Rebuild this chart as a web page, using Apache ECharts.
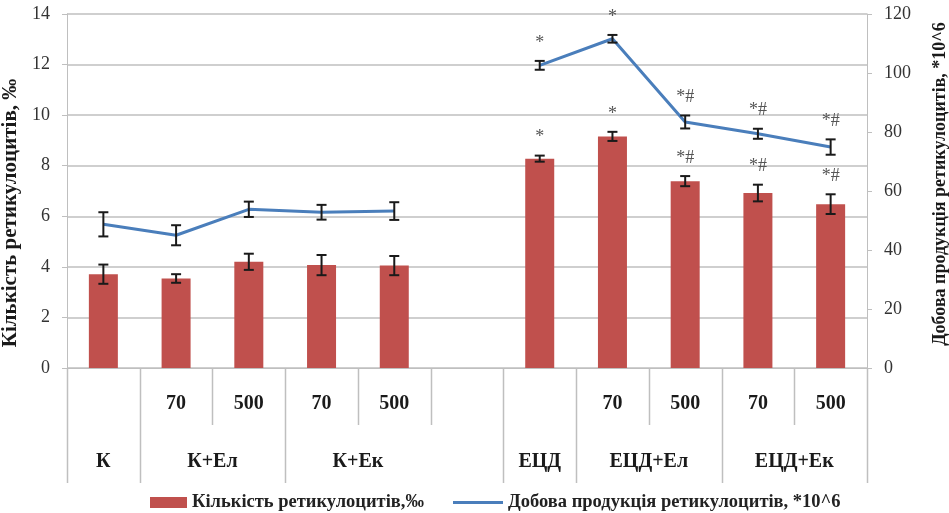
<!DOCTYPE html>
<html>
<head>
<meta charset="utf-8">
<script src="https://cdn.jsdelivr.net/npm/echarts@6/dist/echarts.min.js"></script>
<style>
	html, body { margin: 0; padding: 0; background: #fff; }
	#chart { width: 949px; height: 513px; }
</style>
</head>
<body>
<div id="chart"></div>
<script>
	// slots: К | К+Ел 70, 500 | К+Ек 70, 500 | gap | ЕЦД | ЕЦД+Ел 70, 500 | ЕЦД+Ек 70, 500
	const subLabels = ["", "70", "500", "70", "500", "", "", "70", "500", "70", "500"];
	const groupLabels = ["К", "К+Ел", "К+Ек", "ЕЦД", "ЕЦД+Ел", "ЕЦД+Ек"];
	const groupCenters = [0, 1.5, 3.5, 6, 7.5, 9.5];
	const fullDividers = [0, 1, 3, 6, 7, 9, 11];
	const shortDividers = [2, 4, 5, 8, 10];

	const countName = "Кількість ретикулоцитів,‰";
	const countValues = [3.71, 3.54, 4.2, 4.07, 4.05, null, 8.28, 9.16, 7.39, 6.92, 6.48];
	const countErrors = [0.38, 0.17, 0.32, 0.4, 0.38, null, 0.12, 0.18, 0.2, 0.33, 0.39];
	const countMarks = ["", "", "", "", "", "", "*", "*", "*#", "*#", "*#"];

	const prodName = "Добова продукція ретикулоцитів, *10^6";
	const prodValues = [48.7, 45.0, 53.8, 52.8, 53.2, null, 102.6, 111.6, 83.4, 79.4, 74.9];
	const prodErrors = [4.1, 3.4, 2.6, 2.5, 3.0, null, 1.5, 1.3, 2.2, 1.7, 2.6];
	const prodMarks = ["", "", "", "", "", "", "*", "*", "*#", "*#", "*#"];

	const serif = "'Liberation Serif', 'Times New Roman', serif";
	const gridColor = "#bfbfbf";
	const barColor = "#c0504d";
	const lineColor = "#4a7ebb";

	const errorData = (values, errors) => values
		.map((v, i) => (v == null ? null : [i, v, errors[i]]))
		.filter(d => d);

	const errorRenderer = marks => (params, api) => {
		const i = api.value(0);
		const v = api.value(1);
		const e = api.value(2);
		const top = api.coord([i, v + e]);
		const bot = api.coord([i, v - e]);
		const x = top[0];
		const cap = 5;
		const lineStyle = { stroke: "#1a1a1a", lineWidth: 2 };
		const children = [
			{ type: "line", shape: { x1: x, y1: top[1], x2: x, y2: bot[1] }, style: lineStyle },
			{ type: "line", shape: { x1: x - cap, y1: top[1], x2: x + cap, y2: top[1] }, style: lineStyle },
			{ type: "line", shape: { x1: x - cap, y1: bot[1], x2: x + cap, y2: bot[1] }, style: lineStyle }
		];
		if (marks[i]) {
			children.push({
				type: "text",
				style: {
					text: marks[i], x: x, y: top[1] - 9,
					align: "center", verticalAlign: "bottom",
					fontSize: 18, fontFamily: serif, fill: "#555"
				}
			});
		}
		return { type: "group", children };
	};

	const dividers = fullDividers.map(b => [b, 115]).concat(shortDividers.map(b => [b, 57]));

	const legendText = { fontFamily: serif, fontWeight: "bold", fontSize: 18.5, color: "#222" };

	const chart = echarts.init(document.getElementById("chart"));
	chart.setOption({
		animation: false,
		grid: { left: 67, right: 82, top: 14, bottom: 145, containLabel: false, outerBoundsMode: "none" },
		legend: [
			{
				top: 488,
				left: 145,
				itemWidth: 37,
				itemHeight: 11,
				textStyle: legendText,
				data: [{ name: countName, icon: "rect" }]
			},
			{
				top: 488,
				left: 448,
				itemWidth: 50,
				itemHeight: 3,
				textStyle: legendText,
				data: [{ name: prodName, icon: "rect", itemStyle: { color: lineColor } }]
			}
		],
		xAxis: [
			{
				type: "category",
				data: subLabels,
				axisLine: { onZero: false, lineStyle: { color: gridColor } },
				axisTick: { show: false },
				axisLabel: { interval: 0, margin: 26, fontFamily: serif, fontWeight: "bold", fontSize: 20, color: "#1a1a1a" }
			},
			{
				type: "value",
				position: "bottom",
				min: -0.5,
				max: 10.5,
				interval: 0.5,
				axisLine: { show: false, onZero: false },
				axisTick: { show: false },
				splitLine: { show: false },
				axisLabel: {
					margin: 84,
					fontFamily: serif, fontWeight: "bold", fontSize: 20, color: "#1a1a1a",
					showMinLabel: true, showMaxLabel: true,
					formatter: value => {
						const k = groupCenters.findIndex(c => Math.abs(c - value) < 1e-6);
						return k >= 0 ? groupLabels[k] : "";
					}
				}
			}
		],
		yAxis: [
			{
				type: "value",
				min: 0, max: 14, interval: 2,
				name: "Кількість ретикулоцитів, ‰",
				nameLocation: "middle",
				nameGap: 40,
				nameTextStyle: {
					fontFamily: serif, fontWeight: "bold", fontSize: 21, color: "#1a1a1a",
					padding: [0, 44, 0, 0]
				},
				axisLine: { show: true, onZero: false, lineStyle: { color: gridColor } },
				axisTick: { show: true, length: 5, lineStyle: { color: gridColor } },
				axisLabel: { margin: 17, fontFamily: serif, fontSize: 18, color: "#333" },
				splitLine: { lineStyle: { color: gridColor, width: 1.5 } }
			},
			{
				type: "value",
				min: 0, max: 120, interval: 20,
				name: "Добова продукція ретикулоцитів, *10^6",
				nameLocation: "middle",
				nameGap: 64,
				nameRotate: 90,
				nameTextStyle: {
					fontFamily: serif, fontWeight: "bold", fontSize: 18, color: "#1a1a1a",
					padding: [0, 0, 0, 14]
				},
				axisLine: { show: true, onZero: false, lineStyle: { color: gridColor } },
				axisTick: { show: true, length: 5, lineStyle: { color: gridColor } },
				axisLabel: { margin: 17, fontFamily: serif, fontSize: 18, color: "#333" },
				splitLine: { show: false }
			}
		],
		series: [
			{
				name: countName,
				type: "bar",
				data: countValues,
				barWidth: 29,
				itemStyle: { color: barColor }
			},
			{
				name: prodName,
				type: "line",
				yAxisIndex: 1,
				data: prodValues,
				symbol: "none",
				connectNulls: false,
				lineStyle: { color: lineColor, width: 3 },
				itemStyle: { color: lineColor }
			},
			{
				type: "custom",
				data: errorData(countValues, countErrors),
				encode: { x: 0, y: 1 },
				renderItem: errorRenderer(countMarks),
				z: 5,
				silent: true
			},
			{
				type: "custom",
				yAxisIndex: 1,
				data: errorData(prodValues, prodErrors),
				encode: { x: 0, y: 1 },
				renderItem: errorRenderer(prodMarks),
				z: 5,
				silent: true
			},
			{
				type: "custom",
				data: dividers.map(d => [Math.min(d[0], 10), 0]),
				clip: false,
				silent: true,
				renderItem: (params, api) => {
					const [b, len] = dividers[params.dataIndex];
					const bw = api.size([1, 0])[0];
					const c = api.coord([Math.min(b, 10), 0]);
					const x = Math.round(b > 10 ? c[0] + bw / 2 : c[0] - bw / 2) + 0.5;
					return {
						type: "line",
						shape: { x1: x, y1: c[1], x2: x, y2: c[1] + len },
						style: { stroke: gridColor, lineWidth: 1.5 }
					};
				}
			}
		]
	});
</script>
</body>
</html>
